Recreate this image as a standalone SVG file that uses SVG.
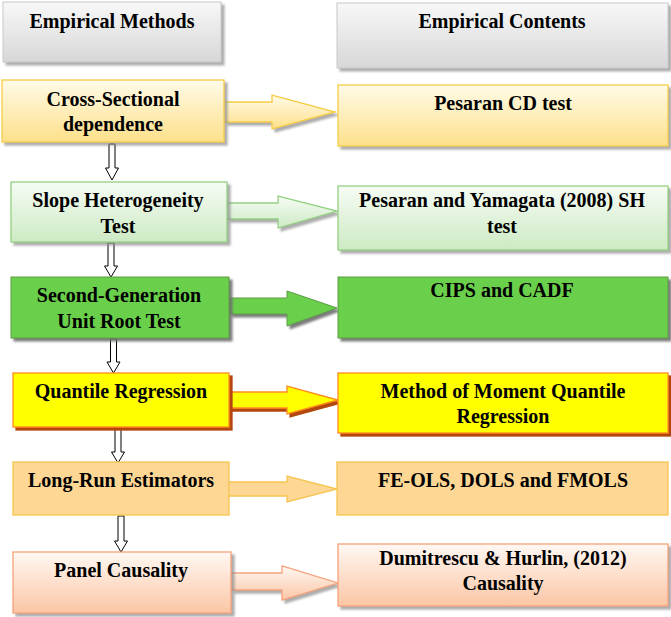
<svg xmlns="http://www.w3.org/2000/svg" width="671" height="617" viewBox="0 0 671 617">
<style>
text{font-family:"Liberation Serif","Times New Roman",serif;font-weight:bold;font-size:20px;fill:#000;text-anchor:middle}
.hdr{fill:url(#gHdr);stroke:#c8c8c8;stroke-width:1;filter:url(#shGray)}
.r1{fill:url(#gYel);stroke:#f5cd45;stroke-width:1.3;filter:url(#shGray)}
.r2{fill:url(#gGrn);stroke:#94d081;stroke-width:1.3;filter:url(#shGray)}
.r3{fill:#6bd04b;stroke:#5c9c45;stroke-width:1;filter:url(#shDark)}
.r4{fill:#ffff00;stroke:#ff8a1c;stroke-width:1.3;filter:url(#shOrg)}
.r5{fill:#fdd793;stroke:#f7c54f;stroke-width:1.3}
.r6{fill:url(#gSal);stroke:#f4a27c;stroke-width:1.3;filter:url(#shGray)}
.dn{fill:#fff;stroke:#000;stroke-width:1}
</style>
<defs>
<linearGradient id="gHdr" x1="0" y1="0" x2="0" y2="1"><stop offset="0" stop-color="#f8f8f8"/><stop offset="1" stop-color="#d7d7d7"/></linearGradient>
<linearGradient id="gYel" x1="0" y1="0" x2="0" y2="1"><stop offset="0" stop-color="#fffbe8"/><stop offset="1" stop-color="#fde08a"/></linearGradient>
<linearGradient id="gGrn" x1="0" y1="0" x2="0" y2="1"><stop offset="0" stop-color="#f6fcf4"/><stop offset="1" stop-color="#cdeac4"/></linearGradient>
<linearGradient id="gSal" x1="0" y1="0" x2="0" y2="1"><stop offset="0" stop-color="#fff8f3"/><stop offset="1" stop-color="#fbc6a5"/></linearGradient>
<filter id="shGray" x="-10%" y="-10%" width="130%" height="130%">
<feGaussianBlur in="SourceAlpha" stdDeviation="1"/><feOffset dx="3" dy="3" result="o"/>
<feFlood flood-color="#8a8a8a" flood-opacity="0.7"/><feComposite in2="o" operator="in"/>
<feMerge><feMergeNode/><feMergeNode in="SourceGraphic"/></feMerge></filter>
<filter id="shDark" x="-10%" y="-10%" width="130%" height="130%">
<feGaussianBlur in="SourceAlpha" stdDeviation="0.8"/><feOffset dx="3" dy="3" result="o"/>
<feFlood flood-color="#6e6e6e" flood-opacity="0.9"/><feComposite in2="o" operator="in"/>
<feMerge><feMergeNode/><feMergeNode in="SourceGraphic"/></feMerge></filter>
<filter id="shOrg" x="-10%" y="-10%" width="130%" height="130%">
<feGaussianBlur in="SourceAlpha" stdDeviation="0.6"/><feOffset dx="3" dy="3" result="o"/>
<feFlood flood-color="#b4460e" flood-opacity="1"/><feComposite in2="o" operator="in"/>
<feMerge><feMergeNode/><feMergeNode in="SourceGraphic"/></feMerge></filter>
</defs>
<g id="connectors">
<path class="r1" d="M224,102 L272,102 L272,95 L335,112 L272,129 L272,122 L224,122"/>
<path class="r2" d="M227,203 L278,203 L278,196 L337,211 L278,228 L278,219 L227,219"/>
<path class="r3" d="M229,298 L287,298 L287,291 L337,308 L287,326 L287,314 L229,314"/>
<path class="r4" d="M229,392 L287,392 L287,386 L338,400 L287,414 L287,408 L229,408"/>
<path class="r5" d="M229,482 L287,482 L287,476 L337,489 L287,502 L287,496 L229,496"/>
<path class="r6" d="M231,573 L282,573 L282,566 L338,583 L282,600 L282,590 L231,590"/>
<path class="dn" d="M109,144 L115,144 L115,168 L118.5,168 L112,180 L105.5,168 L109,168 Z"/>
<path class="dn" d="M108,243 L114,243 L114,266 L117.5,266 L111,277 L104.5,266 L108,266 Z"/>
<path class="dn" d="M110.5,339 L116.5,339 L116.5,362 L120,362 L113.5,373 L107,362 L110.5,362 Z"/>
<path class="dn" d="M115,429 L121,429 L121,452 L124.5,452 L118,463 L111.5,452 L115,452 Z"/>
<path class="dn" d="M118,516 L124,516 L124,541 L127.5,541 L121,552 L114.5,541 L118,541 Z"/>
</g>
<g id="hdr-methods"><rect class="hdr" x="3" y="2" width="218" height="60"/><text x="112" y="28">Empirical Methods</text></g>
<g id="hdr-contents"><rect class="hdr" x="337" y="3" width="331" height="65"/><text x="502" y="28">Empirical Contents</text></g>
<g id="n-csd"><rect class="r1" x="2" y="80" width="222" height="62"/><text x="113" y="106">Cross-Sectional</text><text x="113" y="131">dependence</text></g>
<g id="c-cd"><rect class="r1" x="338" y="85" width="330" height="61"/><text x="503" y="110">Pesaran CD test</text></g>
<g id="n-slope"><rect class="r2" x="11" y="182" width="216" height="60"/><text x="118" y="207">Slope Heterogeneity</text><text x="118" y="233">Test</text></g>
<g id="c-sh"><rect class="r2" x="338" y="186" width="330" height="64"/><text x="502" y="207">Pesaran and Yamagata (2008) SH</text><text x="502" y="233">test</text></g>
<g id="n-unit"><rect class="r3" x="11" y="277" width="218" height="61"/><text x="119" y="302">Second-Generation</text><text x="119" y="328">Unit Root Test</text></g>
<g id="c-cips"><rect class="r3" x="338" y="277" width="330" height="61"/><text x="502" y="297">CIPS and CADF</text></g>
<g id="n-qr"><rect class="r4" x="13" y="373" width="216" height="54"/><text x="121" y="398">Quantile Regression</text></g>
<g id="c-mmqr"><rect class="r4" x="338" y="373" width="330" height="60"/><text x="503" y="398">Method of Moment Quantile</text><text x="503" y="423">Regression</text></g>
<g id="n-lr"><rect class="r5" x="13" y="462" width="216" height="53"/><text x="121" y="487">Long-Run Estimators</text></g>
<g id="c-ols"><rect class="r5" x="337" y="462" width="331" height="53"/><text x="503" y="487">FE-OLS, DOLS and FMOLS</text></g>
<g id="n-pc"><rect class="r6" x="13" y="552" width="218" height="61"/><text x="121" y="577">Panel Causality</text></g>
<g id="c-dh"><rect class="r6" x="338" y="544" width="330" height="62"/><text x="503" y="565">Dumitrescu &amp; Hurlin, (2012)</text><text x="503" y="590">Causality</text></g>
</svg>
